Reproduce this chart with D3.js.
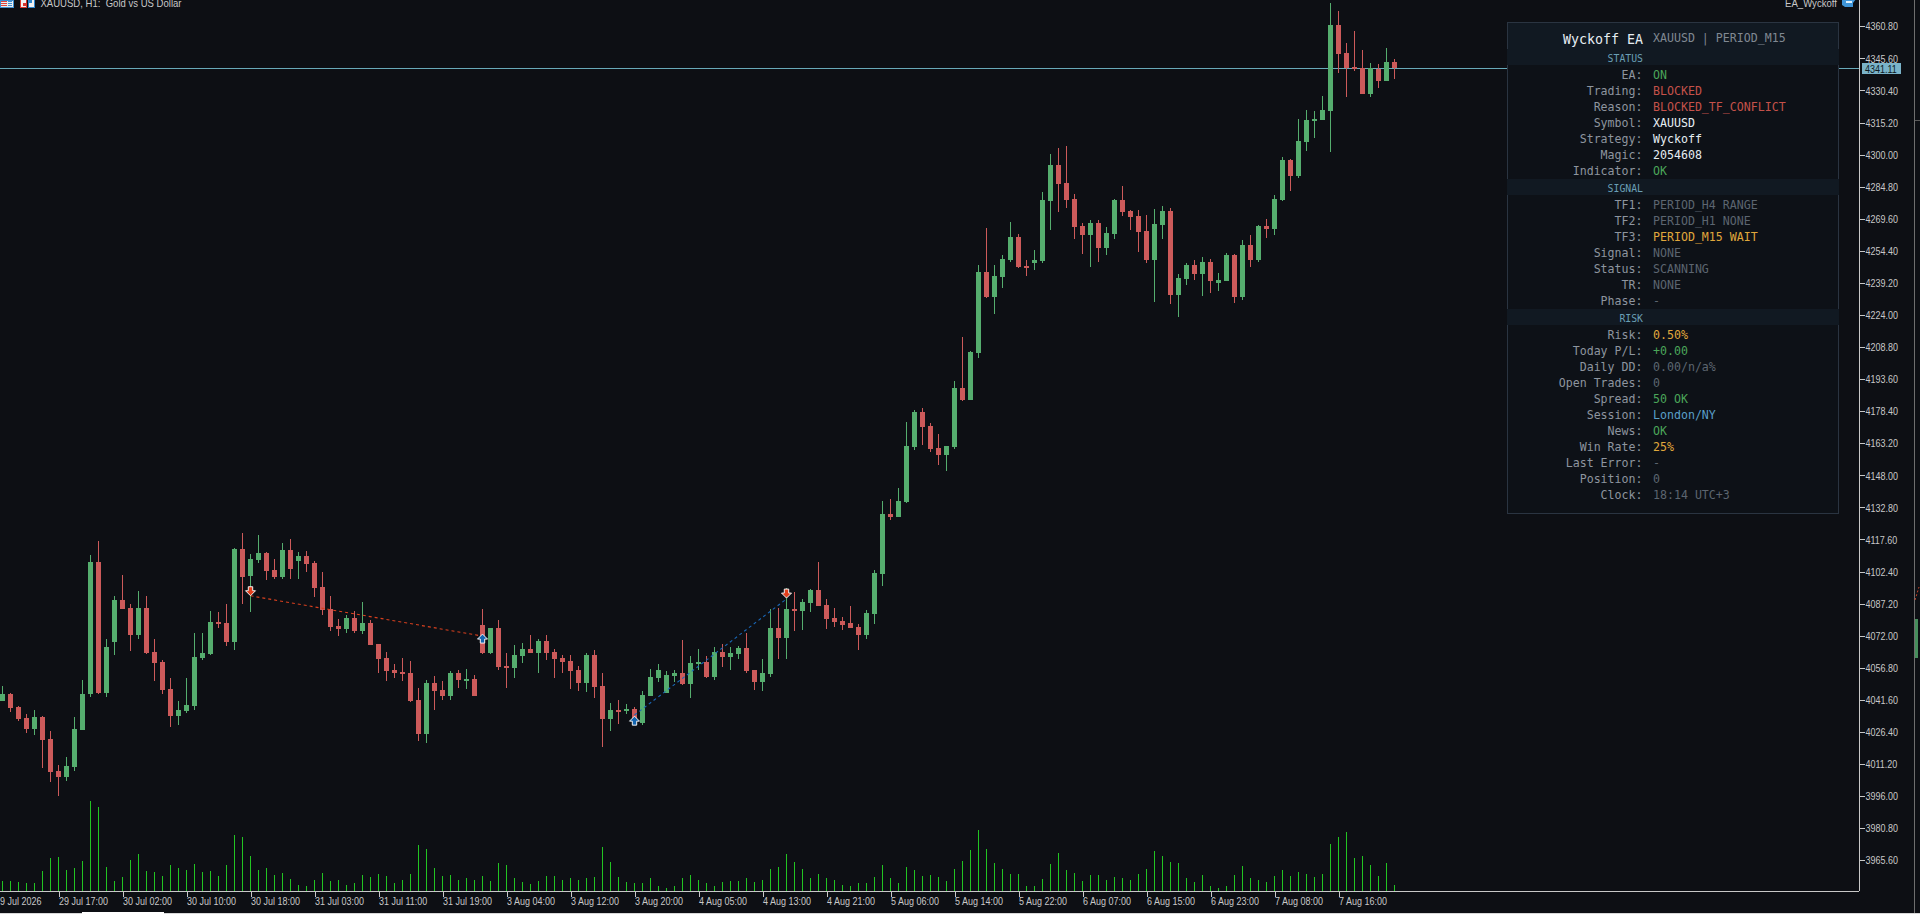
<!DOCTYPE html>
<html>
<head>
<meta charset="utf-8">
<script src="https://cdn.jsdelivr.net/npm/d3@7"></script>
<style>
  html, body { margin: 0; padding: 0; background: #0d0f14; overflow: hidden; }
  svg { display: block; }
  .axis text { font-family: "Liberation Sans", sans-serif; font-size: 11.5px; fill: #c8c8c8; }
  .axis line, .axis path { stroke: #c8c8c8; shape-rendering: crispEdges; }
  .mono { font-family: "DejaVu Sans Mono", monospace; }
</style>
</head>
<body>
<svg id="svg" width="1920" height="914"></svg>
<script>
// XAUUSD H1 bars, oldest first
const opens = [
  4041.0,4044.3,4038.2,4033.0,4027.8,4033.4,4023.0,4007.8,4005.0,4009.7,
  4027.3,4044.3,4106.9,4044.8,4069.0,4088.9,4085.1,4072.3,4085.1,4064.3,
  4059.5,4046.7,4033.9,4036.3,4038.6,4061.4,4063.3,4078.5,4078.0,4069.0,
  4113.1,4100.3,4107.9,4111.2,4103.1,4099.8,4112.6,4107.4,4109.8,4106.4,
  4095.1,4084.6,4076.6,4075.2,4080.4,4074.2,4078.0,4068.0,4061.4,4055.7,
  4054.8,4054.3,4041.5,4025.4,4049.6,4046.2,4043.4,4054.3,4051.0,4051.5,
  4077.0,4063.8,4075.6,4057.6,4056.7,4062.4,4065.7,4063.8,4069.5,4064.3,
  4061.4,4060.0,4055.7,4049.6,4062.8,4048.1,4032.5,4036.8,4036.3,4037.2,
  4030.6,4043.4,4051.9,4044.8,4052.9,4054.3,4049.1,4058.6,4059.5,4052.4,
  4064.3,4061.9,4063.3,4066.2,4055.7,4050.0,4053.8,4075.6,4070.9,4084.6,
  4083.7,4087.5,4093.6,4086.5,4080.4,4078.9,4078.0,4076.1,4072.3,4082.3,
  4101.2,4129.7,4128.2,4135.3,4161.4,4178.0,4171.3,4161.0,4157.6,4161.4,
  4189.4,4183.7,4206.0,4244.3,4232.4,4241.9,4250.0,4260.9,4247.2,4248.7,
  4249.5,4278.0,4295.1,4286.6,4279.0,4266.1,4261.9,4267.6,4255.8,4262.4,
  4278.5,4273.2,4270.9,4263.7,4250.0,4266.6,4273.2,4233.4,4241.0,4247.7,
  4243.4,4249.1,4239.1,4240.0,4252.4,4232.5,4257.1,4250.0,4266.2,4264.7,
  4278.5,4297.4,4289.8,4306.0,4315.9,4316.4,4320.6,4361.4,4348.1,4341.5,
  4340.9,4328.7,4340.6,4334.9,4343.9
];
const closes = [
  4044.3,4037.7,4032.5,4027.8,4033.4,4022.5,4007.4,4005.0,4010.2,4027.8,
  4044.3,4106.9,4044.8,4066.6,4088.9,4084.6,4072.3,4085.1,4063.8,4059.0,
  4046.2,4033.9,4036.8,4039.1,4061.9,4063.8,4078.5,4077.5,4069.0,4113.1,
  4099.8,4108.3,4111.2,4102.6,4099.8,4112.6,4103.6,4109.8,4106.0,4094.6,
  4084.2,4076.1,4075.2,4080.4,4074.2,4078.0,4067.6,4060.9,4055.2,4054.3,
  4053.8,4041.0,4025.4,4049.6,4045.8,4043.4,4054.3,4051.0,4051.5,4043.4,
  4063.8,4075.6,4057.1,4056.7,4062.8,4065.7,4063.8,4069.5,4063.8,4060.9,
  4059.5,4055.2,4049.6,4062.8,4047.7,4032.5,4036.8,4036.3,4037.2,4032.0,
  4043.9,4052.4,4055.7,4053.3,4054.3,4049.1,4059.0,4059.5,4052.4,4064.3,
  4061.9,4063.8,4066.2,4055.2,4050.0,4054.3,4075.6,4070.9,4084.6,4083.7,
  4088.0,4093.6,4086.0,4079.9,4078.5,4077.0,4075.6,4072.3,4082.8,4101.8,
  4129.7,4128.2,4135.8,4161.9,4178.0,4170.8,4160.5,4157.6,4161.9,4189.4,
  4183.7,4206.4,4244.3,4232.4,4242.4,4250.5,4260.9,4246.6,4246.3,4250.0,
  4278.5,4295.1,4286.1,4278.5,4265.6,4261.9,4267.6,4255.8,4262.9,4278.5,
  4272.7,4270.3,4263.2,4250.0,4267.1,4273.2,4233.4,4241.5,4247.7,4243.4,
  4249.1,4240.0,4240.5,4252.4,4232.5,4257.1,4250.0,4266.2,4264.7,4278.9,
  4297.4,4289.8,4306.4,4316.4,4316.9,4321.1,4361.4,4347.7,4341.0,4340.6,
  4328.7,4340.9,4334.9,4343.9,4341.1
];
const highs = [
  4048.1,4044.8,4038.7,4034.9,4036.8,4033.9,4026.8,4010.7,4014.5,4033.4,
  4051.0,4110.2,4116.9,4070.4,4090.8,4100.8,4087.0,4093.2,4090.8,4070.4,
  4060.5,4051.9,4041.0,4051.9,4073.3,4073.3,4083.7,4083.2,4087.0,4113.5,
  4120.7,4110.7,4119.7,4111.6,4108.3,4115.9,4117.8,4111.6,4112.1,4107.4,
  4102.2,4090.8,4079.9,4081.8,4083.7,4088.0,4079.4,4068.0,4064.3,4058.6,
  4061.4,4060.0,4047.2,4051.0,4052.9,4050.5,4055.2,4055.7,4056.2,4053.3,
  4084.6,4075.6,4079.4,4063.8,4067.6,4068.5,4072.3,4070.4,4072.3,4065.7,
  4062.8,4062.8,4057.6,4063.8,4065.2,4054.3,4040.1,4041.5,4039.6,4038.2,
  4045.8,4056.2,4058.6,4055.2,4055.7,4069.9,4062.4,4065.7,4062.4,4066.6,
  4068.0,4066.6,4067.1,4073.3,4055.7,4060.9,4084.6,4085.1,4094.6,4092.7,
  4089.4,4094.1,4106.9,4089.4,4085.1,4080.8,4086.0,4077.5,4084.1,4103.1,
  4135.8,4136.8,4142.1,4173.2,4179.0,4180.0,4172.9,4167.6,4161.9,4192.7,
  4213.5,4206.9,4247.7,4265.3,4247.7,4252.4,4268.0,4262.4,4250.0,4254.8,
  4282.2,4300.3,4303.2,4304.0,4281.3,4267.6,4269.0,4269.0,4265.6,4279.0,
  4285.1,4273.7,4273.7,4271.4,4274.2,4275.6,4274.7,4243.4,4248.6,4250.0,
  4251.4,4250.5,4243.9,4253.3,4252.9,4259.5,4261.9,4266.6,4269.5,4280.8,
  4298.8,4297.9,4316.9,4321.1,4320.6,4327.8,4371.8,4368.1,4352.9,4358.6,
  4349.6,4343.4,4342.9,4350.5,4345.3
];
const lows = [
  4041.0,4035.8,4031.5,4025.9,4024.9,4009.3,4002.6,3996.0,4003.1,4007.8,
  4027.3,4042.9,4044.3,4042.9,4062.8,4084.6,4064.7,4070.4,4063.5,4050.5,
  4044.3,4028.7,4029.7,4035.3,4036.8,4060.5,4062.8,4075.6,4067.1,4065.2,
  4087.0,4083.2,4106.4,4098.4,4098.9,4098.9,4098.9,4098.9,4102.2,4090.3,
  4081.8,4074.2,4071.8,4073.3,4073.3,4072.8,4067.6,4054.3,4050.5,4051.9,
  4050.5,4040.5,4022.1,4021.1,4036.8,4041.5,4041.5,4047.2,4046.7,4043.4,
  4063.3,4063.3,4055.7,4047.2,4051.9,4059.0,4063.8,4054.3,4060.5,4051.9,
  4054.3,4046.7,4045.8,4045.3,4042.4,4019.2,4026.8,4030.1,4034.9,4032.0,
  4029.7,4043.4,4050.0,4044.8,4050.0,4048.6,4042.4,4055.7,4051.9,4051.0,
  4057.1,4055.7,4060.9,4054.3,4046.2,4045.8,4052.4,4060.9,4060.9,4074.2,
  4074.7,4083.2,4086.0,4075.2,4076.1,4074.7,4075.6,4065.2,4070.5,4077.6,
  4095.5,4126.8,4128.2,4134.9,4160.0,4162.4,4159.0,4152.9,4150.0,4160.5,
  4183.2,4183.7,4203.7,4232.1,4224.5,4236.8,4249.0,4246.3,4242.4,4245.3,
  4248.7,4264.3,4272.7,4274.8,4260.0,4252.9,4246.6,4249.0,4252.4,4260.0,
  4270.9,4264.3,4253.8,4248.7,4230.1,4260.0,4229.2,4223.0,4238.2,4240.5,
  4233.0,4234.4,4235.3,4240.0,4229.6,4231.1,4246.7,4249.1,4260.5,4261.9,
  4278.0,4282.7,4288.9,4301.7,4307.9,4316.4,4301.2,4338.7,4327.3,4339.6,
  4328.7,4327.3,4331.6,4334.9,4335.8
];
const volumes = [
  30,30,27,24,24,60,99,102,63,69,
  90,270,252,72,30,42,93,111,60,57,
  45,78,69,63,81,57,60,45,78,168,
  162,105,63,69,48,54,36,18,15,33,
  54,30,33,18,24,48,42,51,45,24,
  33,51,138,126,69,45,48,33,39,33,
  45,30,84,78,39,27,21,30,45,45,
  33,39,33,39,42,132,87,42,27,24,
  24,39,15,9,15,39,48,33,24,15,
  27,30,30,39,27,33,66,72,111,87,
  66,39,51,39,33,18,15,24,24,42,
  78,39,24,72,63,45,48,42,30,66,
  90,123,183,126,84,66,51,51,15,15,
  36,81,114,63,54,30,48,48,33,42,
  39,33,51,66,120,105,87,84,39,27,
  48,15,9,15,48,75,39,33,27,45,
  63,45,57,51,42,51,141,162,177,99,
  105,78,45,84,18
];

const lastPrice = 4341.11;
const priceTicks = d3.range(0, 27).map(k => +(4360.8 - k * 15.2).toFixed(2));

const timeBars = [-1,7,15,23,31,39,47,55,63,71,79,87,95,103,111,119,127,135,143,151,159,167];
const timeLabels = ["29 Jul 2026","29 Jul 17:00","30 Jul 02:00","30 Jul 10:00","30 Jul 18:00","31 Jul 03:00",
  "31 Jul 11:00","31 Jul 19:00","3 Aug 04:00","3 Aug 12:00","3 Aug 20:00","4 Aug 05:00","4 Aug 13:00",
  "4 Aug 21:00","5 Aug 06:00","5 Aug 14:00","5 Aug 22:00","6 Aug 07:00","6 Aug 15:00","6 Aug 23:00",
  "7 Aug 08:00","7 Aug 16:00"];

// closed trades: [bar in, price in, bar out, price out]
const sellTrade = [31, 4090.9, 60, 4071.8];
const buyTrade = [79, 4034.4, 98, 4089.4];
// arrows: bar, price, direction
const arrowBars = [31, 60, 79, 98];
const arrowPrices = [4093.3, 4070.4, 4031.5, 4092.2];
const arrowDirs = ["down", "up", "up", "down"];

const panelStatus = [
  ["EA:", "ON", "good"], ["Trading:", "BLOCKED", "bad"], ["Reason:", "BLOCKED_TF_CONFLICT", "bad"],
  ["Symbol:", "XAUUSD", "bright"], ["Strategy:", "Wyckoff", "bright"], ["Magic:", "2054608", "bright"],
  ["Indicator:", "OK", "good"]
];
const panelSignal = [
  ["TF1:", "PERIOD_H4 RANGE", "dim"], ["TF2:", "PERIOD_H1 NONE", "dim"], ["TF3:", "PERIOD_M15 WAIT", "warn"],
  ["Signal:", "NONE", "dim"], ["Status:", "SCANNING", "dim"], ["TR:", "NONE", "dim"], ["Phase:", "-", "dim"]
];
const panelRisk = [
  ["Risk:", "0.50%", "warn"], ["Today P/L:", "+0.00", "good"], ["Daily DD:", "0.00/n/a%", "dim"],
  ["Open Trades:", "0", "dim"], ["Spread:", "50 OK", "good"], ["Session:", "London/NY", "info"],
  ["News:", "OK", "good"], ["Win Rate:", "25%", "warn"], ["Last Error:", "-", "dim"],
  ["Position:", "0", "dim"], ["Clock:", "18:14 UTC+3", "dim"]
];

const toneColor = { good: "#4ba65a", bad: "#c5514a", bright: "#e6edf3", dim: "#5c6570", warn: "#e0a83c", info: "#5a9fc8" };
const upColor = "#55ad6e", downColor = "#cc5a5a", volColor = "#22c422";

const svg = d3.select("#svg");
const bars = d3.range(opens.length);

const x = d3.scaleLinear().domain([0, 174]).range([2.5, 1394.5]);
const y = d3.scaleLinear().domain([4360.8, 3965.6]).range([26.3, 860.2]);
const yVol = d3.scaleLinear().domain([0, 270]).range([891, 801]);

// squeeze labels to the narrow terminal font widths
function narrow(selection, factor) {
  selection.each(function() {
    d3.select(this)
      .attr("textLength", this.getComputedTextLength() * factor)
      .attr("lengthAdjust", "spacingAndGlyphs");
  });
}

svg.append("rect").attr("width", 1920).attr("height", 914).attr("fill", "#0d0f14");

// current price line
svg.append("line")
  .attr("x1", 0).attr("x2", 1859)
  .attr("y1", Math.round(y(lastPrice)) + 0.5).attr("y2", Math.round(y(lastPrice)) + 0.5)
  .attr("stroke", "#68a9b8");

// neighbouring chart peeking in at the right edge
svg.append("line").attr("x1", 1914.5).attr("x2", 1914.5).attr("y1", 0).attr("y2", 914)
  .attr("stroke", "#6e6e6e").attr("shape-rendering", "crispEdges");
svg.append("rect").attr("x", 1915).attr("y", 619).attr("width", 3).attr("height", 39).attr("fill", upColor).attr("opacity", 0.8);
svg.append("line").attr("x1", 1915).attr("x2", 1920).attr("y1", 120.5).attr("y2", 120.5).attr("stroke", "#5a5a5a");
svg.append("line").attr("x1", 1915).attr("x2", 1919).attr("y1", 600).attr("y2", 587).attr("stroke", "#c8452a").attr("stroke-dasharray", "2,2");

// candles
const candle = svg.append("g").attr("shape-rendering", "crispEdges")
  .selectAll("g").data(bars).enter().append("g")
  .attr("fill", i => closes[i] >= opens[i] ? upColor : downColor);
candle.append("rect")
  .attr("x", i => x(i) - 0.5).attr("width", 1)
  .attr("y", i => y(highs[i]))
  .attr("height", i => y(lows[i]) - y(highs[i]));
candle.append("rect")
  .attr("x", i => x(i) - 2.5).attr("width", 5)
  .attr("y", i => y(Math.max(opens[i], closes[i])))
  .attr("height", i => Math.max(2, Math.abs(y(opens[i]) - y(closes[i]))));

// volume
svg.append("g").attr("shape-rendering", "crispEdges")
  .selectAll("rect").data(bars).enter().append("rect")
  .attr("x", i => x(i) - 0.5).attr("width", 1)
  .attr("y", i => yVol(volumes[i]))
  .attr("height", i => yVol(0) - yVol(volumes[i]))
  .attr("fill", volColor);

// trade lines
function tradeLine(t, color) {
  svg.append("line")
    .attr("x1", x(t[0])).attr("y1", y(t[1]))
    .attr("x2", x(t[2])).attr("y2", y(t[3]))
    .attr("stroke", color).attr("stroke-width", 1.1).attr("stroke-dasharray", "3,3");
}
tradeLine(sellTrade, "#d8401f");
tradeLine(buyTrade, "#1a68b8");

// arrows
const arrowPath = "M0,5L-5,0L-2.2,0L-2.2,-4L2.2,-4L2.2,0L5,0Z";
svg.append("g").selectAll("path").data(arrowBars).enter().append("path")
  .attr("d", arrowPath)
  .attr("transform", (b, k) => `translate(${x(b)},${y(arrowPrices[k])}) rotate(${arrowDirs[k] === "up" ? 180 : 0})`)
  .attr("fill", (b, k) => arrowDirs[k] === "up" ? "#1465b0" : "#e23f1c")
  .attr("stroke", "#f2f2f2").attr("stroke-width", 1);

// status panel
const panel = svg.append("g").attr("class", "mono");
panel.append("rect").attr("x", 1507.5).attr("y", 22.5).attr("width", 331).attr("height", 491)
  .attr("fill", "#0d1117").attr("stroke", "#2a3441").attr("shape-rendering", "crispEdges");
panel.append("rect").attr("x", 1508).attr("y", 23).attr("width", 330).attr("height", 26).attr("fill", "#111922");

panel.append("text").text("Wyckoff EA").attr("x", 1643).attr("y", 39)
  .attr("text-anchor", "end").attr("dominant-baseline", "central")
  .attr("font-size", 13.3).attr("fill", "#e6edf3");
panel.append("text").text("XAUUSD | PERIOD_M15").attr("x", 1653).attr("y", 38)
  .attr("dominant-baseline", "central").attr("font-size", 11.6).attr("fill", "#808892");

function section(title, bandTop, rows) {
  panel.append("rect").attr("x", 1507).attr("y", bandTop).attr("width", 332).attr("height", 16).attr("fill", "#111922");
  panel.append("text").text(title).attr("x", 1643).attr("y", bandTop + 9.3)
    .attr("text-anchor", "end").attr("dominant-baseline", "central")
    .attr("font-size", 9.8).attr("fill", "#6a9fb5");
  rows.forEach((r, k) => {
    const ry = bandTop + 26 + k * 16;
    panel.append("text").text(r[0]).attr("x", 1642.5).attr("y", ry)
      .attr("text-anchor", "end").attr("dominant-baseline", "central")
      .attr("font-size", 11.6).attr("fill", "#8d959f");
    panel.append("text").text(r[1]).attr("x", 1653).attr("y", ry)
      .attr("dominant-baseline", "central")
      .attr("font-size", 11.6).attr("fill", toneColor[r[2]]);
  });
}
section("STATUS", 49, panelStatus);
section("SIGNAL", 179, panelSignal);
section("RISK", 309, panelRisk);

// price axis
const yAxis = d3.axisRight(y).tickValues(priceTicks).tickSize(5).tickPadding(1)
  .tickFormat(d3.format(".2f"));
svg.append("g").attr("class", "axis").attr("transform", "translate(1859.5,0)").call(yAxis)
  .call(g => g.select(".domain").attr("d", "M0,0V891"))
  .call(g => narrow(g.selectAll("text"), 0.78));

// time axis
const xAxis = d3.axisBottom(x).tickValues(timeBars).tickSize(5).tickFormat((d, k) => timeLabels[k]);
svg.append("g").attr("class", "axis").attr("transform", "translate(0,891.5)").call(xAxis)
  .call(g => g.select(".domain").attr("d", "M0,0H1859"))
  .call(g => g.selectAll("text").attr("text-anchor", "start").attr("y", 5))
  .call(g => narrow(g.selectAll("text"), 0.78));

// last price tag
svg.append("rect").attr("x", 1862).attr("y", 63).attr("width", 39).attr("height", 11).attr("fill", "#7ab3c9");
svg.append("text").text(d3.format(".2f")(lastPrice)).attr("x", 1865).attr("y", 68.7)
  .attr("dominant-baseline", "central")
  .style("font-family", '"Liberation Sans", sans-serif')
  .style("font-size", "11.5px").attr("fill", "#0d1a22")
  .call(narrow, 0.78);

// chart title, cut off by the window top
svg.append("text").text("XAUUSD, H1:  Gold vs US Dollar").attr("x", 40.5).attr("y", 6.5)
  .attr("xml:space", "preserve")
  .attr("textLength", 141).attr("lengthAdjust", "spacingAndGlyphs")
  .style("font-family", '"Liberation Sans", sans-serif').style("font-size", "11.5px").attr("fill", "#c8c8c8");
svg.append("text").text("EA_Wyckoff").attr("x", 1785).attr("y", 6.5)
  .attr("textLength", 52).attr("lengthAdjust", "spacingAndGlyphs")
  .style("font-family", '"Liberation Sans", sans-serif').style("font-size", "11.5px").attr("fill", "#c8c8c8");

// title bar icons
const icons = svg.append("g").attr("shape-rendering", "crispEdges");
icons.append("rect").attr("x", 0).attr("y", 0).attr("width", 13).attr("height", 7).attr("fill", "#e8eef4").attr("stroke", "#3f8fd0");
[1, 3, 5].forEach(r => icons.append("rect").attr("x", 1).attr("y", r).attr("width", 6).attr("height", 1).attr("fill", "#e2463c"));
[1, 3, 5].forEach(r => icons.append("rect").attr("x", 8).attr("y", r).attr("width", 4).attr("height", 1).attr("fill", "#3f8fd0"));
icons.append("rect").attr("x", 20.5).attr("y", -1).attr("width", 6).attr("height", 8).attr("fill", "#f2f2f2").attr("stroke", "#d8352c");
icons.append("rect").attr("x", 28.5).attr("y", -1).attr("width", 6).attr("height", 8).attr("fill", "#f2f2f2").attr("stroke", "#2f86cc");
icons.append("rect").attr("x", 23).attr("y", 3).attr("width", 3).attr("height", 3).attr("fill", "#d8352c");
icons.append("rect").attr("x", 29).attr("y", 0).attr("width", 3).attr("height", 3).attr("fill", "#2f86cc");
svg.append("path").attr("d", "M1842,-1H1856L1853,3V7H1845L1842,5Z").attr("fill", "#3f95d8");
svg.append("rect").attr("x", 1846).attr("y", 1).attr("width", 6).attr("height", 2).attr("fill", "#dff0fb");

// tab strip at the bottom
svg.append("rect").attr("x", 0).attr("y", 913).attr("width", 1920).attr("height", 1).attr("fill", "#d8d8d8");
svg.append("rect").attr("x", 82).attr("y", 912).attr("width", 82).attr("height", 2).attr("fill", "#ffffff");
</script>
</body>
</html>
